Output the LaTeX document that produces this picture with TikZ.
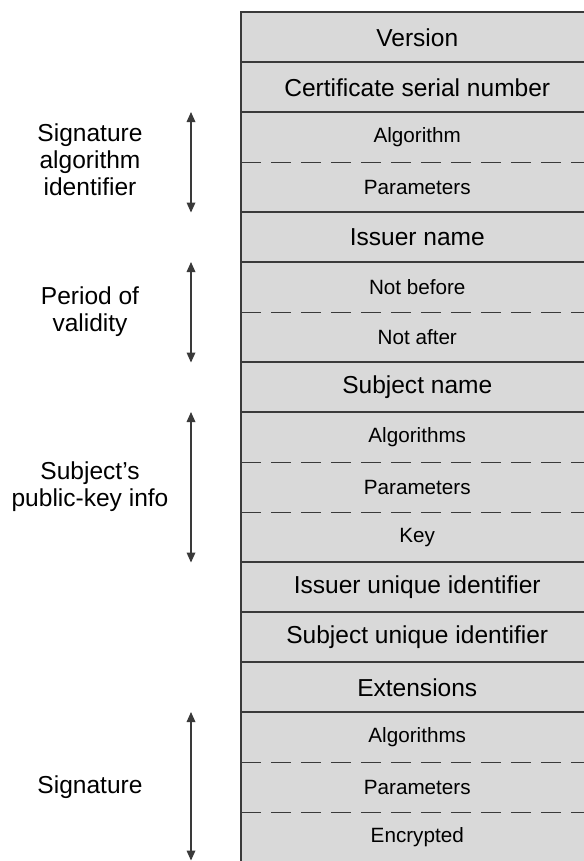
\documentclass[tikz,border=0pt]{standalone}
\usepackage{fontspec}
\setmainfont{Liberation Sans}
\usetikzlibrary{arrows.meta}
\definecolor{cellgray}{HTML}{D9D9D9}
\definecolor{linegray}{HTML}{3A3A3A}
\begin{document}
\begin{tikzpicture}[x=0.75pt,y=-0.75pt,
  field/.style={fill=cellgray, minimum width=264pt, minimum height=37.5pt,
    inner sep=0pt, anchor=north west, font=\fontsize{18.4}{20}\selectfont},
  subfield/.style={field, font=\fontsize{15.5}{17}\selectfont},
  frame/.style={draw=linegray, line width=0.9pt},
  sep/.style={draw=linegray, line width=0.9pt, dash pattern=on 15pt off 7.5pt},
  span/.style={draw=linegray, line width=0.9pt,
    {Triangle[length=7.5pt,width=6.5pt]}-{Triangle[length=7.5pt,width=6.5pt]}},
  caption/.style={align=center, font=\fontsize{18.4}{20.25}\selectfont}]
\clip (0,0) rectangle (584,861);

% certificate fields, top to bottom
\node[field]    (f1)  at (241,12)  {Version};
\node[field]    (f2)  at (241,62)  {Certificate serial number};
\node[subfield] (f3)  at (241,112) {Algorithm};
\node[subfield] (f4)  at (241,162) {Parameters};
\node[field]    (f5)  at (241,212) {Issuer name};
\node[subfield] (f6)  at (241,262) {Not before};
\node[subfield] (f7)  at (241,312) {Not after};
\node[field]    (f8)  at (241,362) {Subject name};
\node[subfield] (f9)  at (241,412) {Algorithms};
\node[subfield] (f10) at (241,462) {Parameters};
\node[subfield] (f11) at (241,512) {Key};
\node[field]    (f12) at (241,562) {Issuer unique identifier};
\node[field]    (f13) at (241,612) {Subject unique identifier};
\node[field]    (f14) at (241,662) {Extensions};
\node[subfield] (f15) at (241,712) {Algorithms};
\node[subfield] (f16) at (241,762) {Parameters};
\node[subfield] (f17) at (241,812) {Encrypted};

% outlines of the field groups
\foreach \a/\b in {f1/f1,f2/f2,f3/f4,f5/f5,f6/f7,f8/f8,f9/f11,f12/f12,f13/f13,f14/f14,f15/f17}
  \draw[frame] (\a.north west) rectangle (\b.south east);

% dashed separators inside groups
\foreach \a in {f3,f6,f9,f10,f15,f16}
  \draw[sep] (\a.south west) -- (\a.south east);

% extent arrows and their captions
\coordinate (axis) at (191,0);
\draw[span] (axis |- f3.north)  -- (axis |- f4.south);
\draw[span] (axis |- f6.north)  -- (axis |- f7.south);
\draw[span] (axis |- f9.north)  -- (axis |- f11.south);
\draw[span] (axis |- f15.north) -- ([yshift=1.5pt]axis |- f17.south);

\node[caption] (c1) at (90,160) {Signature\\algorithm\\identifier};
\node[caption] (c2) at (90,312) {Period of\\validity};
\node[caption] (c3) at (90,487) {Subject’s\\public-key info};
\node[caption] (c4) at (90,787) {Signature};
\end{tikzpicture}
\end{document}
